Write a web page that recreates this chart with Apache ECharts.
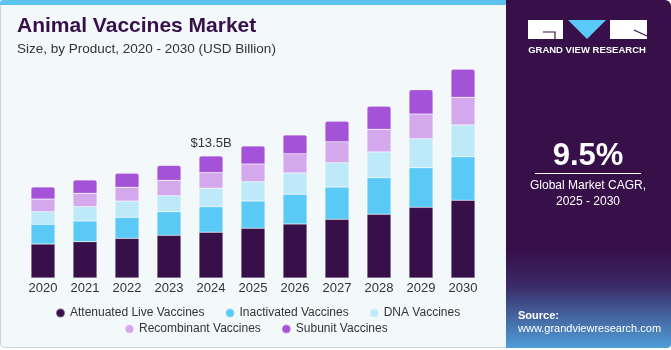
<!DOCTYPE html>
<html>
<head>
<meta charset="utf-8">
<script src="https://cdn.jsdelivr.net/npm/echarts@6/dist/echarts.min.js"></script>
<style>
  html, body { margin: 0; padding: 0; background: #ffffff; }
  #chart { width: 671px; height: 350px; }
</style>
</head>
<body>
<div id="chart"></div>
<script>
// 年份与各产品规模 (USD Billion)
const years = ['2020', '2021', '2022', '2023', '2024', '2025', '2026', '2027', '2028', '2029', '2030'];
const attenuatedLive = [3.76, 4.02, 4.39, 4.72, 5.06, 5.50, 5.97, 6.49, 7.05, 7.82, 8.60];
const inactivated    = [2.18, 2.29, 2.32, 2.61, 2.83, 3.02, 3.29, 3.57, 4.05, 4.38, 4.82];
const dnaVaccines    = [1.39, 1.58, 1.80, 1.77, 2.04, 2.13, 2.36, 2.69, 2.84, 3.21, 3.51];
const recombinant    = [1.40, 1.48, 1.52, 1.70, 1.73, 1.96, 2.13, 2.32, 2.51, 2.73, 3.06];
const subunit        = [1.33, 1.47, 1.55, 1.66, 1.84, 1.99, 2.07, 2.26, 2.54, 2.69, 3.10];
const labelYear = '2024';

const seriesDefs = [
  { name: 'Attenuated Live Vaccines', data: attenuatedLive, color: '#37104a' },
  { name: 'Inactivated Vaccines', data: inactivated, color: '#5bc9f6' },
  { name: 'DNA Vaccines', data: dnaVaccines, color: '#bde9fa' },
  { name: 'Recombinant Vaccines', data: recombinant, color: '#d4a8ec' },
  { name: 'Subunit Vaccines', data: subunit, color: '#a452d8' },
];

const totals = years.map((y, i) => seriesDefs.reduce((s, d) => s + d.data[i], 0));
const labelIdx = years.indexOf(labelYear);

const series = seriesDefs.map((d, k) => {
  const isTop = k === seriesDefs.length - 1;
  return {
    name: d.name,
    type: 'bar',
    stack: 'total',
    barWidth: 24,
    itemStyle: {
      color: d.color,
      borderColor: 'rgba(255,255,255,0.35)',
      borderWidth: 0.6,
      borderRadius: isTop ? [2, 2, 0, 0] : 0,
    },
    data: d.data.map((v, i) => {
      if (isTop && i === labelIdx) {
        return {
          value: v,
          label: {
            show: true,
            position: 'top',
            distance: 6,
            formatter: '$' + totals[i].toFixed(1) + 'B',
            fontSize: 13,
            color: '#333333',
            fontFamily: 'Liberation Sans',
          },
        };
      }
      return v;
    }),
  };
});

const chart = echarts.init(document.getElementById('chart'), null, { renderer: 'canvas' });

const legendText = { fontSize: 12, color: '#333333', fontFamily: 'Liberation Sans' };

chart.setOption({
  animation: false,
  backgroundColor: '#ffffff',
  grid: { left: 22, width: 462, top: 61, bottom: 72 },
  xAxis: {
    type: 'category',
    data: years,
    axisLine: { show: false },
    axisTick: { show: false },
    axisLabel: { color: '#333333', fontSize: 13, margin: 4, fontFamily: 'Liberation Sans' },
  },
  yAxis: {
    type: 'value',
    min: 0,
    max: 24,
    show: false,
    splitLine: { show: false },
  },
  legend: [
    {
      data: seriesDefs.slice(0, 3).map(d => d.name),
      left: 50, top: 302,
      icon: 'circle', itemWidth: 9, itemHeight: 9, itemGap: 20,
      textStyle: legendText,
    },
    {
      data: seriesDefs.slice(3).map(d => d.name),
      left: 119, top: 318,
      icon: 'circle', itemWidth: 9, itemHeight: 9, itemGap: 20,
      textStyle: legendText,
    },
  ],
  graphic: [
    // 左侧卡片背景
    { type: 'rect', z: -10, silent: true,
      shape: { x: 0.5, y: 0.5, width: 515, height: 347, r: 4 },
      style: { fill: '#f3f8fb', stroke: '#cfd3d6', lineWidth: 1 } },
    { type: 'rect', z: -9, silent: true,
      shape: { x: 0, y: 0, width: 510, height: 5, r: [3, 0, 0, 0] },
      style: { fill: '#5cc3ee' } },
    // 右侧面板
    { type: 'rect', z: -8, silent: true,
      shape: { x: 506, y: 0, width: 165, height: 348, r: [0, 6, 4, 0] },
      style: {
        fill: new echarts.graphic.LinearGradient(0, 0, 0, 1, [
          { offset: 0, color: '#37104a' },
          { offset: 0.72, color: '#37104a' },
          { offset: 0.82, color: '#3a2a66' },
          { offset: 1, color: '#4f9fd8' },
        ]),
      } },
    // 标题
    { type: 'text', left: 17, top: 16,
      style: { text: 'Animal Vaccines Market', fill: '#37104a', fontSize: 21, fontWeight: 'bold', fontFamily: 'Liberation Sans' } },
    { type: 'text', left: 17, top: 42,
      style: { text: 'Size, by Product, 2020 - 2030 (USD Billion)', fill: '#333333', fontSize: 13.5, fontFamily: 'Liberation Sans' } },
    // Logo
    { type: 'rect', shape: { x: 528, y: 20, width: 35, height: 19 }, style: { fill: '#ffffff' } },
    { type: 'polyline', shape: { points: [[543, 32], [555, 32], [555, 39]] }, style: { stroke: '#37104a', lineWidth: 1.2, fill: null } },
    { type: 'polygon', shape: { points: [[568, 20], [606, 20], [587, 39]] }, style: { fill: '#5bc9f6' } },
    { type: 'rect', shape: { x: 610, y: 20, width: 37, height: 19 }, style: { fill: '#ffffff' } },
    { type: 'line', shape: { x1: 634, y1: 30, x2: 647, y2: 36 }, style: { stroke: '#37104a', lineWidth: 1.2 } },
    { type: 'text', x: 587, y: 50,
      style: { text: 'GRAND VIEW RESEARCH', fill: '#ffffff', fontSize: 9.5, fontWeight: 'bold', fontFamily: 'Liberation Sans', align: 'center', verticalAlign: 'middle' } },
    // CAGR
    { type: 'text', x: 588, y: 156,
      style: { text: '9.5%', fill: '#ffffff', fontSize: 31, fontWeight: 'bold', fontFamily: 'Liberation Sans', align: 'center', verticalAlign: 'middle' } },
    { type: 'line', shape: { x1: 535, y1: 173.5, x2: 641, y2: 173.5 }, style: { stroke: '#ffffff', lineWidth: 1 } },
    { type: 'text', x: 588, y: 186,
      style: { text: 'Global Market CAGR,', fill: '#ffffff', fontSize: 12, fontFamily: 'Liberation Sans', align: 'center', verticalAlign: 'middle' } },
    { type: 'text', x: 588, y: 202,
      style: { text: '2025 - 2030', fill: '#ffffff', fontSize: 12, fontFamily: 'Liberation Sans', align: 'center', verticalAlign: 'middle' } },
    // 来源
    { type: 'text', left: 518, top: 310,
      style: { text: 'Source:', fill: '#ffffff', fontSize: 11, fontWeight: 'bold', fontFamily: 'Liberation Sans' } },
    { type: 'text', left: 518, top: 323,
      style: { text: 'www.grandviewresearch.com', fill: '#ffffff', fontSize: 11, fontFamily: 'Liberation Sans' } },
  ],
  series: series,
});
</script>
</body>
</html>
